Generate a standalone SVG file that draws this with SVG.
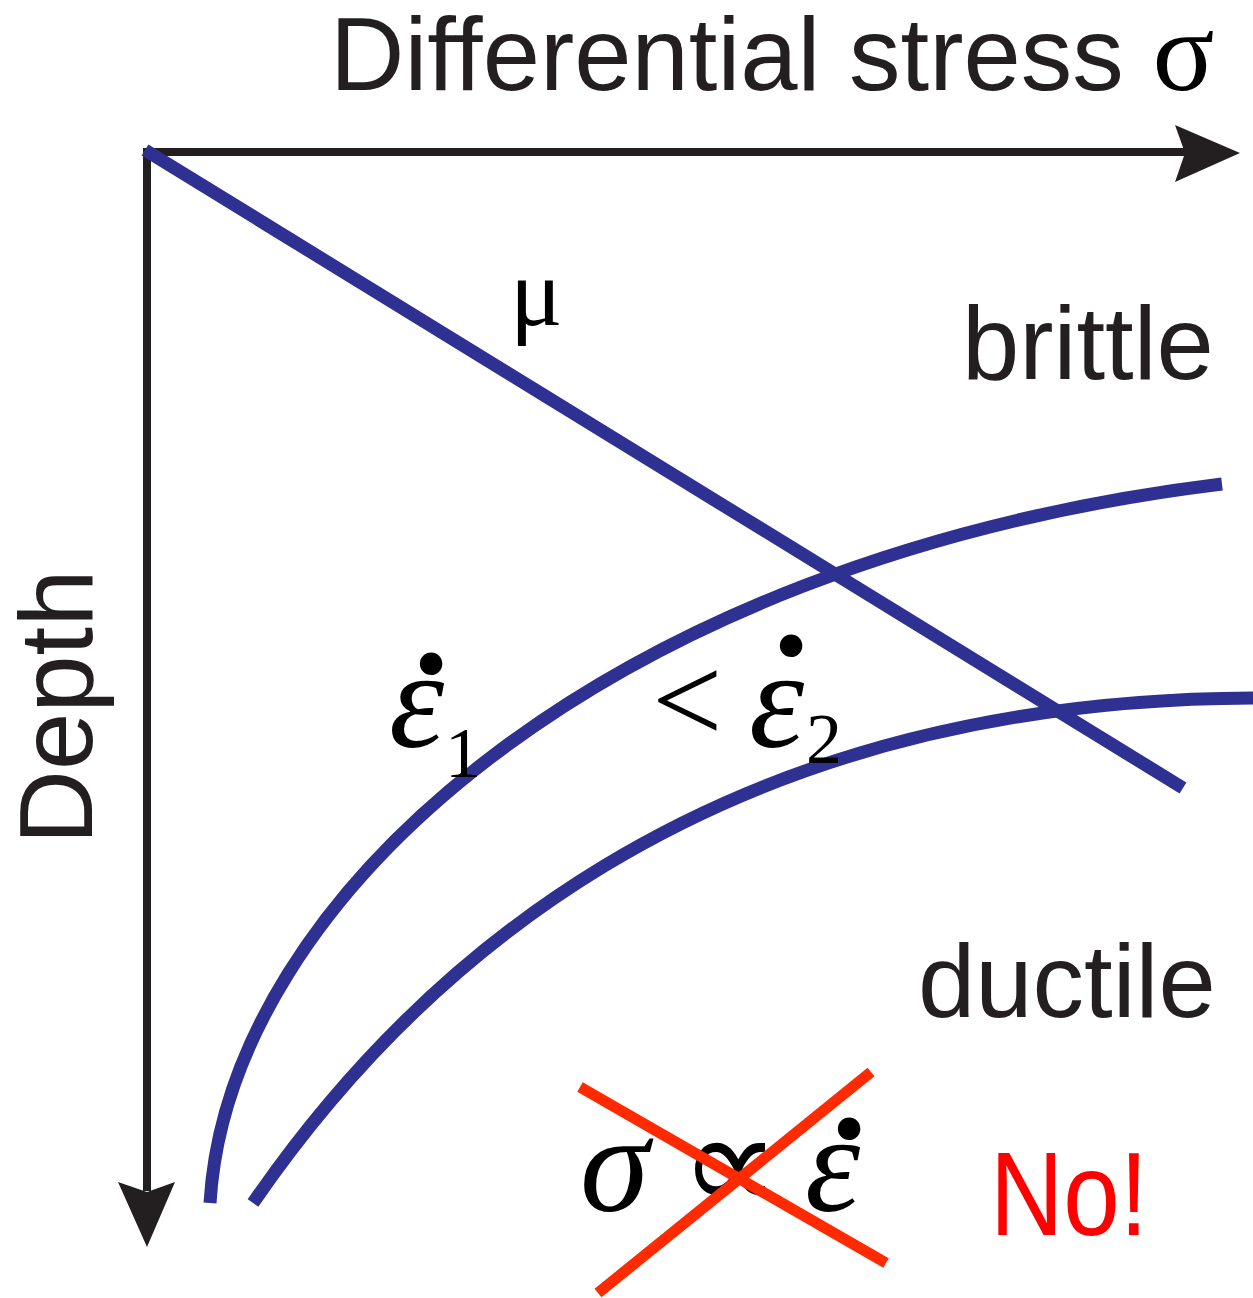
<svg xmlns="http://www.w3.org/2000/svg" width="1253" height="1298" viewBox="0 0 1253 1298">
<style>
.sans{font-family:"Liberation Sans",Arial,sans-serif;fill:#231f20}
.serif{font-family:"Liberation Serif","Times New Roman",serif;fill:#000}
.it{font-style:italic}
.eps{font-family:"Liberation Serif","Times New Roman",serif;font-style:italic;fill:#000}
.dot{font-family:"Liberation Serif","Times New Roman",serif;font-weight:bold;fill:#000}
.axis{stroke:#231f20;stroke-width:8;fill:none}
.head{fill:#231f20}
.blue{stroke:#2e3192;stroke-width:13;fill:none}
.red{stroke:#ff2a00;stroke-width:11;fill:none}
</style>
<rect width="1253" height="1298" fill="#fff"/>
<g id="axes">
<line class="axis" x1="143" y1="152" x2="1186" y2="152"/>
<polygon class="head" points="1240,153 1175,125 1185,153 1175,182"/>
<line class="axis" x1="147" y1="148" x2="147" y2="1191"/>
<polygon class="head" points="147,1247 118,1182 147,1192 175,1182"/>
</g>
<g id="connectors">
<line id="mu-line" class="blue" x1="145" y1="150" x2="1183" y2="788"/>
<path id="curve1" class="blue" d="M210,1203 C228,900 600,560 1222,484"/>
<path id="curve2" class="blue" d="M253,1203 C410,975 700,700 1253,698"/>
</g>
<g id="title"><text class="sans" x="330" y="90" font-size="103">Differential stress <tspan class="serif" fill="#231f20" font-size="115">σ</tspan></text></g>
<g id="depth"><text class="sans" font-size="103" text-anchor="middle" transform="translate(92,707) rotate(-90)">Depth</text></g>
<g id="brittle"><text class="sans" x="962" y="379" font-size="103">brittle</text></g>
<g id="ductile"><text class="sans" x="918" y="1017" font-size="103">ductile</text></g>
<g id="mu"><text class="serif" x="510" y="325" font-size="98" fill="#231f20">μ</text></g>
<g id="eps1">
<text class="eps" x="389" y="747" font-size="140">ε</text>
<text class="dot" x="406" y="757" font-size="150">˙</text>
<text class="serif" x="445" y="777" font-size="72">1</text>
</g>
<g id="eps2">
<text class="serif" x="652" y="742" font-size="125">&lt;</text>
<text class="eps" x="749" y="747" font-size="140">ε</text>
<text class="dot" x="766" y="739" font-size="150">˙</text>
<text class="serif" x="806" y="763" font-size="72">2</text>
</g>
<g id="relation">
<text class="serif it" x="580" y="1211" font-size="140">σ</text>
<text class="serif" x="680" y="1211" font-size="140">∝</text>
<text class="eps" x="805" y="1211" font-size="140">ε</text>
<text class="dot" x="824" y="1222" font-size="150">˙</text>
<line class="red" x1="580" y1="1087" x2="886" y2="1263"/>
<line class="red" x1="598" y1="1293" x2="871" y2="1072"/>
</g>
<g id="no"><text x="990" y="1235" font-family="'Liberation Sans',Arial,sans-serif" font-size="118" fill="#ff0000" textLength="158" lengthAdjust="spacingAndGlyphs">No!</text></g>
</svg>
